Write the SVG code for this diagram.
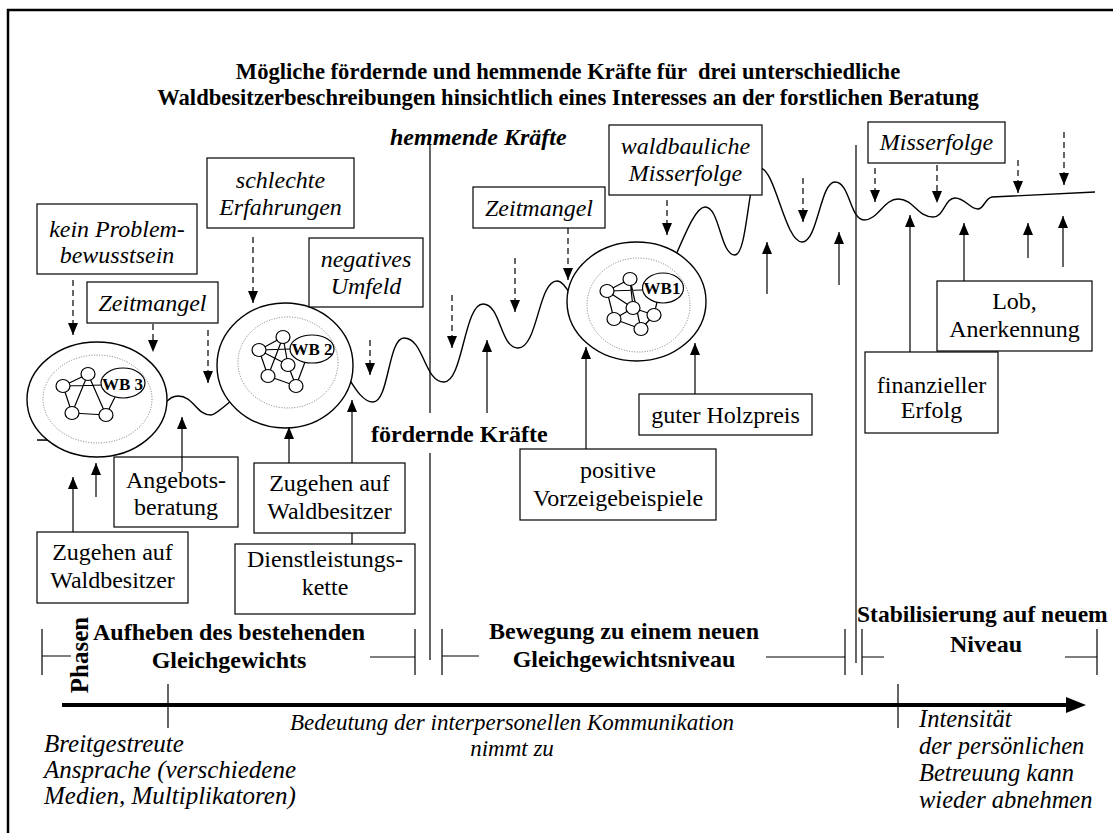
<svg xmlns="http://www.w3.org/2000/svg" width="1113" height="833" viewBox="0 0 1113 833">
<style>
.t{font-family:"Liberation Serif","Times New Roman",serif;font-size:24px;fill:#000;text-anchor:middle}
.s{text-anchor:start}
.i{font-style:italic}
.b{font-weight:bold}
.box{fill:#fff;stroke:#000;stroke-width:1.2}
.wb{fill:#fff;stroke:#000;stroke-width:1.4}
.inner{fill:none;stroke:#777;stroke-width:1;stroke-dasharray:1 1.6}
.edge{fill:none;stroke:#000;stroke-width:1.2}
.nd{fill:#fff;stroke:#000;stroke-width:1.2}
.lbl{font-family:"Liberation Serif","Times New Roman",serif;font-size:17px;font-weight:bold;text-anchor:middle}
.dash{fill:none;stroke:#000;stroke-width:1.2;stroke-dasharray:6 4;marker-end:url(#ah)}
.up{fill:none;stroke:#000;stroke-width:1.2;marker-end:url(#ah)}
.ln{fill:none;stroke:#000;stroke-width:1.2}
.wave{fill:none;stroke:#000;stroke-width:1.4}
</style>
<defs>
<marker id="ah" viewBox="0 0 12 10" refX="12" refY="5" markerWidth="12" markerHeight="10" markerUnits="userSpaceOnUse" orient="auto">
<path d="M0,0 L12,5 L0,10 Z" fill="#000"/>
</marker>
</defs>
<rect x="0" y="0" width="1113" height="833" fill="#fff"/>
<rect x="8" y="10" width="1120" height="840" fill="none" stroke="#000" stroke-width="2.5"/>

<g id="title">
<text class="t b" x="568" y="79" style="font-size:22.6px;white-space:pre">Mögliche fördernde und hemmende Kräfte für  drei unterschiedliche</text>
<text class="t b" x="568" y="105" style="font-size:22.6px">Waldbesitzerbeschreibungen hinsichtlich eines Interesses an der forstlichen Beratung</text>
</g>

<g id="wave">
<path class="wave" d="M37,440 C80,440 110,442 135,442 C156,442 157,396 178,396 C194,396 196,415 211,415 C222,415 260,360 330,360 C345,360 355,402 373,402 C389,402 388,338 404,338 C424,338 424,382 444,382 C463,382 464,304 483,304 C501,304 500,348 518,348 C538,348 538,281 557,281 C570,281 580,330 620,330 C660,330 685,207 705,207 C720,207 720,255 735,255 C748,255 748,168 760,168 C775,168 785,242 802,242 C818,242 820,182 835,182 C850,182 850,220 864,220 C878,220 884,199 898,199 C914,199 917,217 933,217 C944,217 945,198 955,198 C965,198 970,209 978,209 C984,209 985,198 992,197 L1095,192"/>
</g>

<g id="dividers">
<path class="ln" d="M430,145 V413 M430,453 V660 M856,145 V663"/>
<path class="ln" d="M42,629 V675 M42,656 H71 M370,657 H415 M415,629 V675 M442,629 V675 M442,656 H479 M766,657 H845 M845,629 V675 M862,629 V675 M862,657 H884 M1065,657 H1097 M1097,629 V675"/>
</g>

<g id="wb3">
<ellipse class="wb" cx="97" cy="399.5" rx="70" ry="57.5"/>
<ellipse class="inner" cx="97.5" cy="399" rx="54.5" ry="44"/>
<path class="edge" d="M63,386 L88,374 M63,386 L103,385 M63,386 L72,413 M88,374 L72,413 M88,374 L106,415 M72,413 L106,415 M106,415 L115,397"/>
<ellipse class="nd" cx="63" cy="386" rx="7" ry="6.5"/>
<ellipse class="nd" cx="88" cy="374" rx="7" ry="6.5"/>
<ellipse class="nd" cx="72" cy="413" rx="7" ry="6.5"/>
<ellipse class="nd" cx="106" cy="415" rx="7" ry="6.5"/>
<ellipse class="nd" cx="123" cy="383" rx="22" ry="15"/>
<text class="lbl" x="122.5" y="389.5">WB 3</text>
</g>

<g id="wb2">
<ellipse class="wb" cx="285" cy="365.5" rx="68" ry="62.5"/>
<ellipse class="inner" cx="288" cy="362.5" rx="50" ry="45.5"/>
<path class="edge" d="M259,350 L283,337 M259,350 L291,349 M259,350 L288,365 M259,350 L268,376 M283,337 L268,376 M283,337 L288,365 M288,365 L296,386 M268,376 L296,386 M296,386 L305,362"/>
<ellipse class="nd" cx="259" cy="350" rx="7" ry="6.5"/>
<ellipse class="nd" cx="283" cy="337" rx="7" ry="6.5"/>
<ellipse class="nd" cx="288" cy="365" rx="7" ry="6.5"/>
<ellipse class="nd" cx="268" cy="376" rx="7" ry="6.5"/>
<ellipse class="nd" cx="296" cy="386" rx="7" ry="6.5"/>
<ellipse class="nd" cx="312" cy="349" rx="22" ry="14"/>
<text class="lbl" x="312" y="355">WB 2</text>
</g>

<g id="wb1">
<ellipse class="wb" cx="636.5" cy="301.5" rx="69.5" ry="59.5"/>
<ellipse class="inner" cx="638.5" cy="305" rx="51.5" ry="47"/>
<path class="edge" d="M607,291 L630,279 M607,291 L643,290 M607,291 L614,319 M607,291 L633,308 M630,279 L633,308 M630,279 L641,329 M633,308 L614,319 M614,319 L641,329 M641,329 L654,315 M633,308 L654,315 M654,315 L657,302"/>
<ellipse class="nd" cx="607" cy="291" rx="7" ry="6.5"/>
<ellipse class="nd" cx="630" cy="279" rx="7" ry="6.5"/>
<ellipse class="nd" cx="633" cy="308" rx="7" ry="6.5"/>
<ellipse class="nd" cx="654" cy="315" rx="7" ry="6.5"/>
<ellipse class="nd" cx="614" cy="319" rx="7" ry="6.5"/>
<ellipse class="nd" cx="641" cy="329" rx="7" ry="6.5"/>
<ellipse class="nd" cx="663" cy="288" rx="20.5" ry="15"/>
<text class="lbl" x="662" y="294">WB1</text>
</g>

<g id="n-kein">
<rect class="box" x="37" y="204" width="160" height="70"/>
<text class="t i" x="117" y="237">kein Problem-</text>
<text class="t i" x="117" y="263">bewusstsein</text>
</g>
<g id="n-zeit1">
<rect class="box" x="87" y="282" width="131" height="41"/>
<text class="t i" x="152.5" y="311">Zeitmangel</text>
</g>
<g id="n-schlecht">
<rect class="box" x="207" y="158" width="147" height="70"/>
<text class="t i" x="280.5" y="188">schlechte</text>
<text class="t i" x="280.5" y="215">Erfahrungen</text>
</g>
<g id="n-negativ">
<rect class="box" x="309" y="238" width="114" height="69"/>
<text class="t i" x="366" y="267">negatives</text>
<text class="t i" x="366" y="294">Umfeld</text>
</g>
<g id="n-zeit2">
<rect class="box" x="473" y="187" width="132" height="41"/>
<text class="t i" x="539" y="216">Zeitmangel</text>
</g>
<g id="n-waldbau">
<rect class="box" x="609" y="125" width="153" height="70"/>
<text class="t i" x="685.5" y="154">waldbauliche</text>
<text class="t i" x="685.5" y="181">Misserfolge</text>
</g>
<g id="n-misserfolge">
<rect class="box" x="868" y="122" width="137" height="41"/>
<text class="t i" x="936.5" y="150">Misserfolge</text>
</g>
<g id="n-holz">
<rect class="box" x="639" y="394" width="173" height="41"/>
<text class="t" x="725.5" y="423">guter Holzpreis</text>
</g>
<g id="n-positiv">
<rect class="box" x="520" y="449" width="196" height="71"/>
<text class="t" x="618" y="478">positive</text>
<text class="t" x="618" y="506">Vorzeigebeispiele</text>
</g>
<g id="n-lob">
<rect class="box" x="937" y="281" width="155" height="70"/>
<text class="t" x="1014.5" y="309">Lob,</text>
<text class="t" x="1014.5" y="337">Anerkennung</text>
</g>
<g id="n-finanz">
<rect class="box" x="865" y="352" width="133" height="81"/>
<text class="t" x="931.5" y="393">finanzieller</text>
<text class="t" x="931.5" y="418">Erfolg</text>
</g>
<g id="n-angebot">
<rect class="box" x="114" y="457" width="124" height="70"/>
<text class="t" x="176" y="488">Angebots-</text>
<text class="t" x="176" y="515">beratung</text>
</g>
<g id="n-zugehen1">
<rect class="box" x="37" y="532" width="151" height="71"/>
<text class="t" x="112.5" y="560">Zugehen auf</text>
<text class="t" x="112.5" y="588">Waldbesitzer</text>
</g>
<g id="n-zugehen2">
<rect class="box" x="254" y="463" width="151" height="70"/>
<text class="t" x="329.5" y="491">Zugehen auf</text>
<text class="t" x="329.5" y="519">Waldbesitzer</text>
</g>
<g id="n-dienst">
<rect class="box" x="235" y="544" width="180" height="70"/>
<text class="t" x="325" y="567">Dienstleistungs-</text>
<text class="t" x="325" y="595">kette</text>
</g>

<g id="connectors">
<line class="dash" x1="73" y1="280" x2="73" y2="335"/>
<line class="dash" x1="153" y1="324" x2="153" y2="352"/>
<line class="dash" x1="208" y1="330" x2="208" y2="383"/>
<line class="dash" x1="253" y1="237" x2="253" y2="303"/>
<line class="dash" x1="370" y1="340" x2="370" y2="375"/>
<line class="dash" x1="452" y1="295" x2="452" y2="348"/>
<line class="dash" x1="515" y1="258" x2="515" y2="312"/>
<line class="dash" x1="568" y1="228" x2="568" y2="280"/>
<line class="dash" x1="667" y1="200" x2="667" y2="235"/>
<line class="dash" x1="803" y1="178" x2="803" y2="222"/>
<line class="dash" x1="875" y1="168" x2="875" y2="202"/>
<line class="dash" x1="937" y1="165" x2="937" y2="203"/>
<line class="dash" x1="1018" y1="160" x2="1018" y2="193"/>
<line class="dash" x1="1064" y1="132" x2="1064" y2="185"/>
<line class="up" x1="73" y1="532" x2="73" y2="477"/>
<line class="up" x1="96" y1="497" x2="96" y2="463"/>
<line class="up" x1="182" y1="472" x2="182" y2="417"/>
<line class="up" x1="289" y1="463" x2="289" y2="427"/>
<line class="ln" x1="352" y1="544" x2="352" y2="533"/>
<line class="up" x1="352" y1="463" x2="352" y2="400"/>
<line class="up" x1="487" y1="413" x2="487" y2="340"/>
<line class="up" x1="586" y1="449" x2="586" y2="347"/>
<line class="up" x1="695" y1="394" x2="695" y2="343"/>
<line class="up" x1="767" y1="294" x2="767" y2="242"/>
<line class="up" x1="839" y1="285" x2="839" y2="232"/>
<line class="up" x1="910" y1="352" x2="910" y2="215"/>
<line class="up" x1="964" y1="281" x2="964" y2="223"/>
<line class="up" x1="1028" y1="258" x2="1028" y2="223"/>
<line class="up" x1="1063" y1="267" x2="1063" y2="216"/>
</g>

<g id="forces">
<text class="t s b i" x="390" y="145">hemmende Kräfte</text>
<text class="t s b" x="371" y="442">fördernde Kräfte</text>
</g>

<g id="phases">
<text class="t b" style="font-size:25px" transform="translate(88,655) rotate(-90)">Phasen</text>
<text class="t b" x="229" y="640">Aufheben des bestehenden</text>
<text class="t b" x="229" y="668">Gleichgewichts</text>
<text class="t b" x="624" y="639">Bewegung zu einem neuen</text>
<text class="t b" x="624" y="667">Gleichgewichtsniveau</text>
<text class="t s b" x="857" y="622" style="font-size:23.5px">Stabilisierung auf neuem</text>
<text class="t b" x="986" y="652">Niveau</text>
</g>

<g id="timeline">
<line x1="62" y1="705" x2="1070" y2="705" stroke="#000" stroke-width="4"/>
<polygon points="1066,697 1086,705 1066,713" fill="#000"/>
<path class="ln" d="M168,684 V728 M898,684 V728"/>
<text class="t s i" x="44" y="752" style="font-size:25px">Breitgestreute</text>
<text class="t s i" x="44" y="778" style="font-size:25px">Ansprache (verschiedene</text>
<text class="t s i" x="44" y="804" style="font-size:25px">Medien, Multiplikatoren)</text>
<text class="t i" x="512" y="730" style="font-size:23px">Bedeutung der interpersonellen Kommunikation</text>
<text class="t i" x="512" y="756" style="font-size:23px">nimmt zu</text>
<text class="t s i" x="919" y="727" style="font-size:24.5px">Intensität</text>
<text class="t s i" x="919" y="754" style="font-size:24.5px">der persönlichen</text>
<text class="t s i" x="919" y="781" style="font-size:24.5px">Betreuung kann</text>
<text class="t s i" x="919" y="808" style="font-size:24.5px">wieder abnehmen</text>
</g>
</svg>
